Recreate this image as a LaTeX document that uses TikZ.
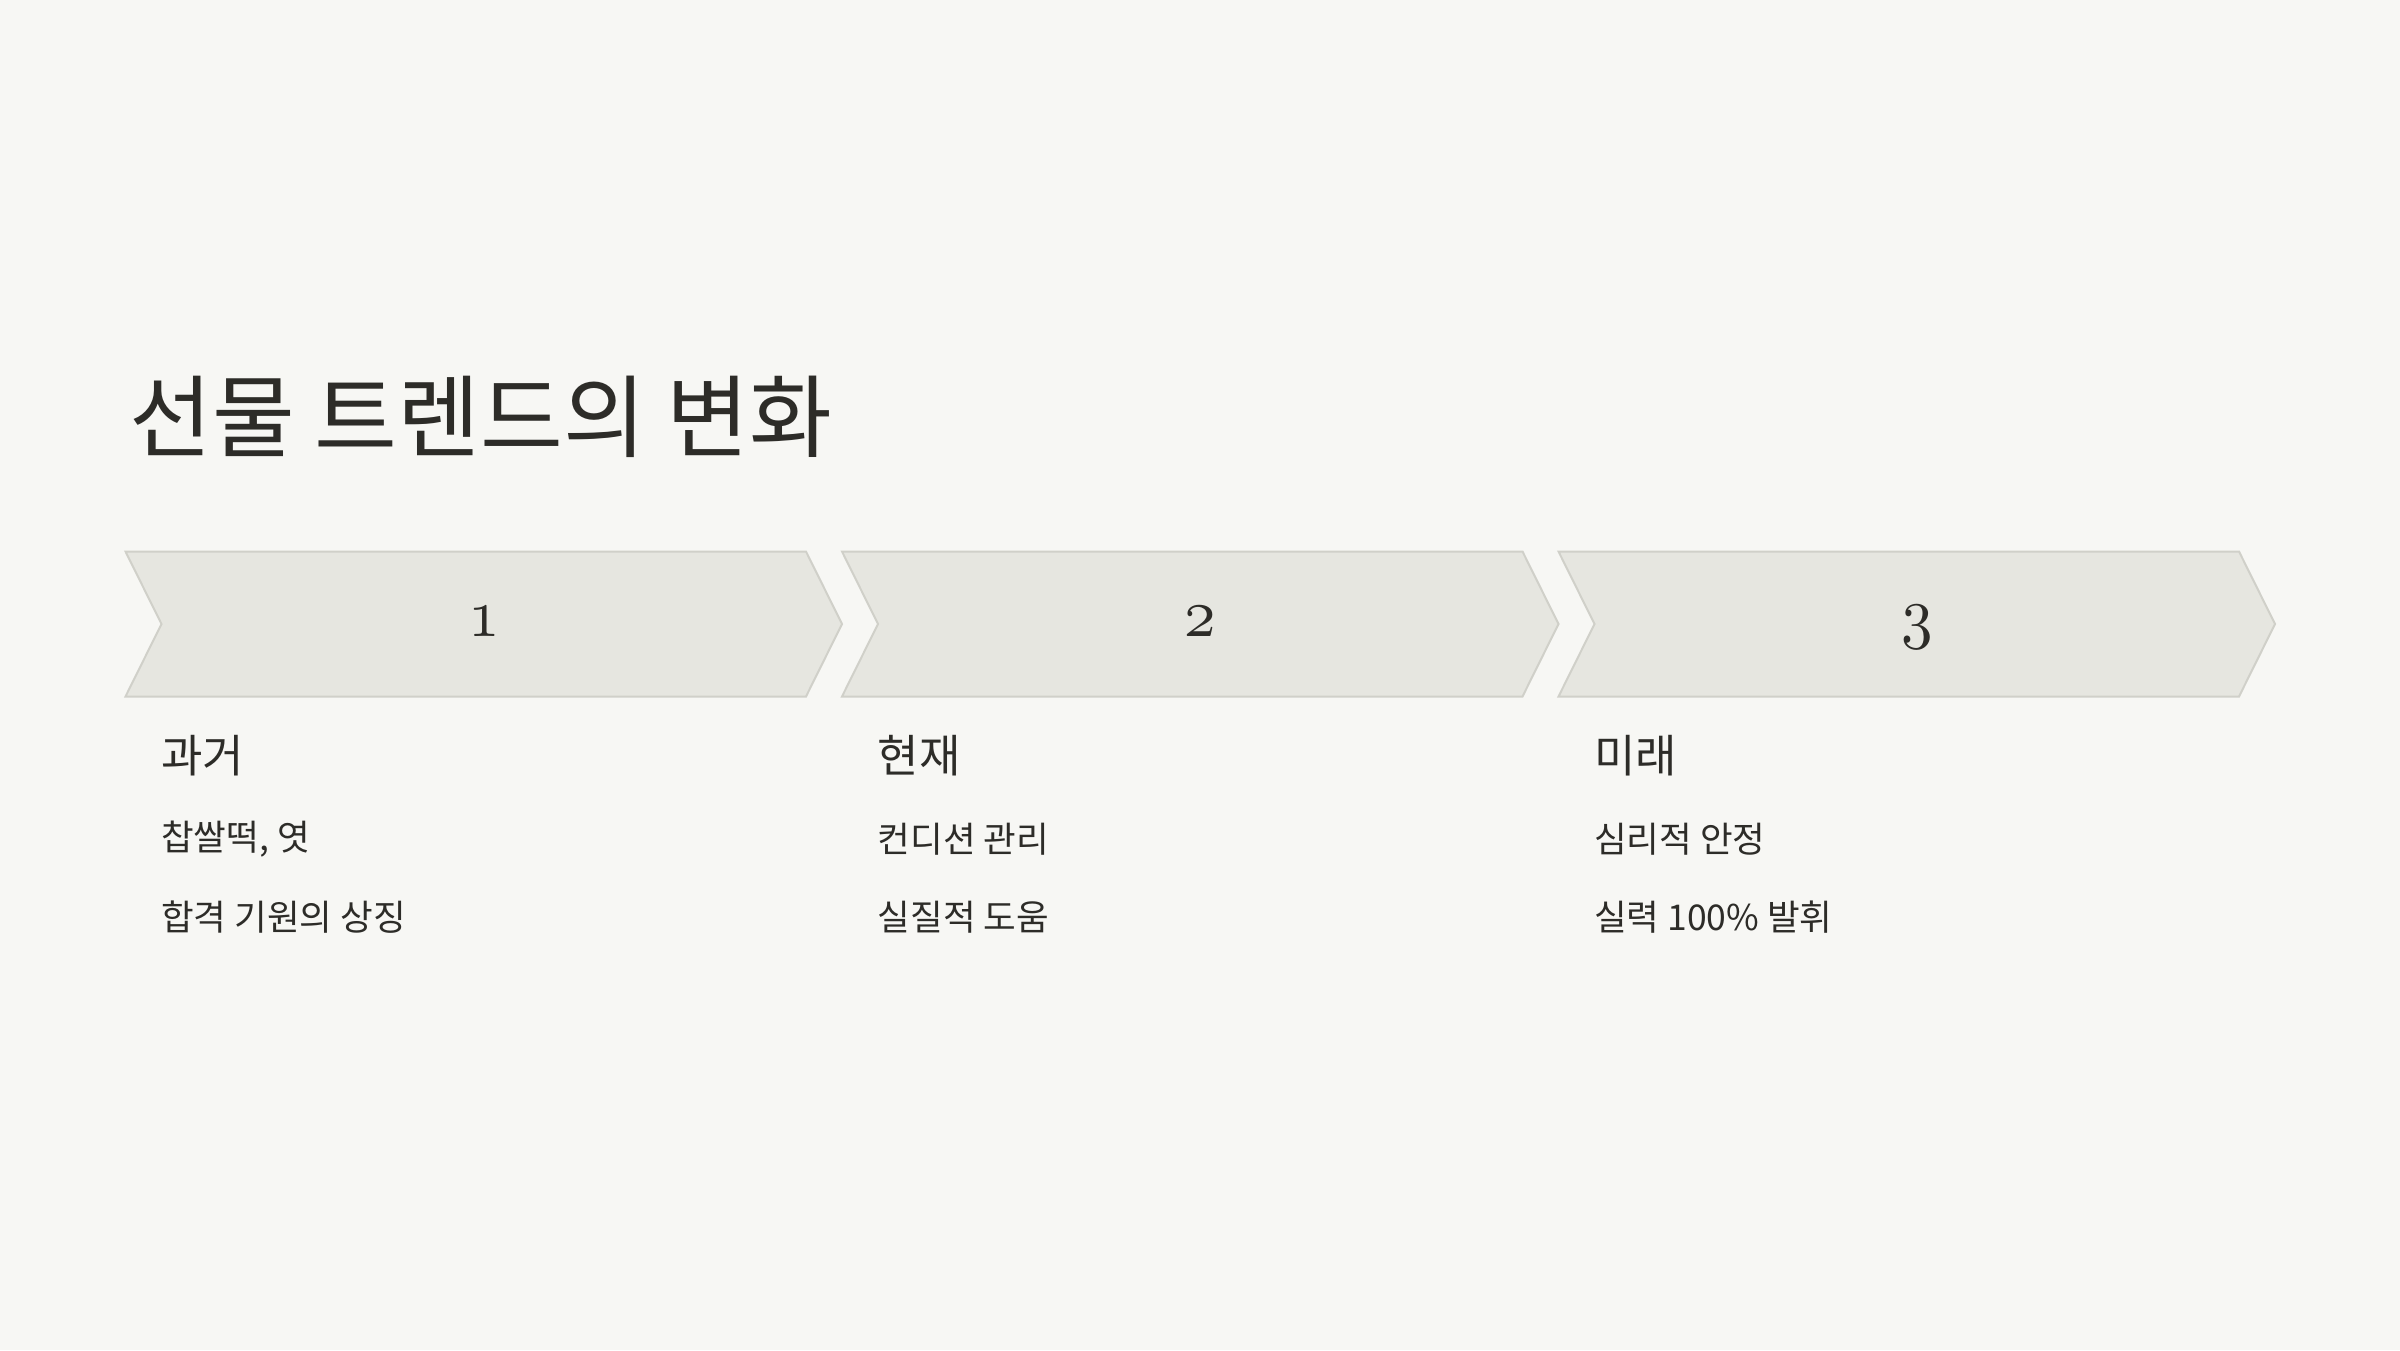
\documentclass[tikz,border=0pt]{standalone}
\usepackage{fontspec}
\newfontfamily\kr{Noto Sans CJK KR}
\definecolor{bgc}{HTML}{F7F7F4}
\definecolor{chevfill}{HTML}{E6E6E0}
\definecolor{chevline}{HTML}{D0D0C9}
\definecolor{ink}{HTML}{2D2C28}
\newcommand{\osnum}[1]{{\usefont{OML}{cmm}{m}{it}#1}}
\tikzset{
  chev/.style={fill=chevfill, draw=chevline, line width=2pt, line join=miter},
  numlbl/.style={inner sep=0pt, text=ink, xscale=6.3, yscale=6.9},
  titlelbl/.style={anchor=west, inner sep=0pt, text=ink, font=\kr\fontsize{90}{100}\selectfont},
  headlbl/.style={anchor=west, inner sep=0pt, text=ink, font=\kr\fontsize{45}{50}\selectfont},
  itemlbl/.style={anchor=west, inner sep=0pt, text=ink, font=\kr\fontsize{35.5}{40}\selectfont}
}
\begin{document}
\begin{tikzpicture}[x=1pt,y=-1pt]
\fill[bgc] (0,0) rectangle (2400,1350);
\useasboundingbox (0,0) rectangle (2400,1350);
% title
\node[titlelbl] (title) at (129,417) {선물 트렌드의 변화};
% chevrons
\foreach \i in {0,1,2}{
  \pgfmathsetmacro{\xo}{125.5+716.5*\i}
  \draw[chev] (\xo,551.5) -- ++(680.5,0) -- ++(36,72.5) -- ++(-36,72.5) -- ++(-680.5,0) -- ++(36,-72.5) -- cycle;
}
\node[numlbl] (n1) at (484,622) {\osnum{1}};
\node[numlbl] (n2) at (1200.5,622) {\osnum{2}};
\node[numlbl] (n3) at (1917,627) {\osnum{3}};
% column 1
\node[headlbl] (h1) at (161,756) {과거};
\node[itemlbl] (a1) at (161,839) {찹쌀떡, 엿};
\node[itemlbl] (b1) at (161,917) {합격 기원의 상징};
% column 2
\node[headlbl] (h2) at (877.5,756) {현재};
\node[itemlbl] (a2) at (877.5,839) {컨디션 관리};
\node[itemlbl] (b2) at (877.5,917) {실질적 도움};
% column 3
\node[headlbl] (h3) at (1594,756) {미래};
\node[itemlbl] (a3) at (1594,839) {심리적 안정};
\node[itemlbl] (b3) at (1594,917) {실력 100\% 발휘};
\end{tikzpicture}
\end{document}
